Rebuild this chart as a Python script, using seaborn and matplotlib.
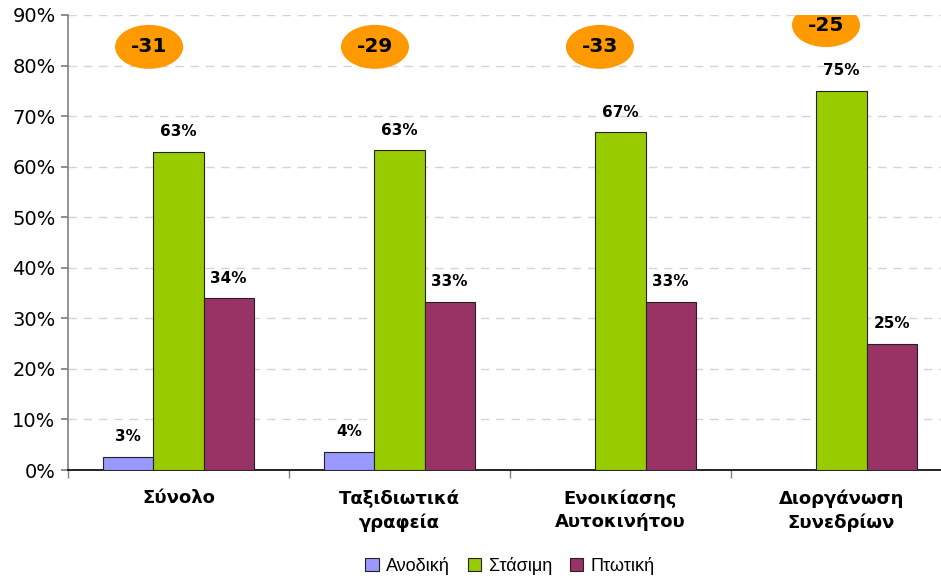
import matplotlib
matplotlib.use("Agg")
import matplotlib.pyplot as plt
from matplotlib.patches import Ellipse
from matplotlib.ticker import FuncFormatter
import seaborn as sns
import pandas as pd

categories = ["Σύνολο", "Ταξιδιωτικά\nγραφεία", "Ενοικίασης\nΑυτοκινήτου", "Διοργάνωση\nΣυνεδρίων"]
series = ["Ανοδική", "Στάσιμη", "Πτωτική"]
anodiki = [2.6, 3.6, 0, 0]
stasimi = [63.0, 63.2, 66.8, 75.0]
ptotiki = [34.0, 33.3, 33.3, 25.0]
balance = ["-31", "-29", "-33", "-25"]
balance_x = [-0.133, 0.889, 1.907, 2.93]
balance_y = [83.7, 83.7, 83.7, 88.0]
colors = ["#9999FF", "#99CC00", "#993366"]

rows = []
for s, vals in zip(series, [anodiki, stasimi, ptotiki]):
    for c, v in zip(categories, vals):
        rows.append({"cat": c, "series": s, "value": v})
df = pd.DataFrame(rows)

sns.set_theme(style="white")
plt.rcParams["font.family"] = ["DejaVu Sans"]
plt.rcParams["text.color"] = "black"
plt.rcParams["xtick.color"] = "black"
plt.rcParams["ytick.color"] = "black"

fig = plt.figure(figsize=(9.41, 5.79), dpi=100)
ax = fig.add_axes([68 / 941, 1 - 470 / 579, 884 / 941, 455 / 579])

sns.barplot(data=df, x="cat", y="value", hue="series", palette=colors,
            width=0.68, edgecolor="#222222", linewidth=0.8, ax=ax,
            saturation=1, legend=True, zorder=3)

for cont in ax.containers:
    labels = [f"{round(b.get_height()):d}%" if b.get_height() > 0 else "" for b in cont]
    ax.bar_label(cont, labels=labels, padding=9, fontsize=11, fontweight="bold", color="black")

for txt, x, y in zip(balance, balance_x, balance_y):
    ax.add_patch(Ellipse((x, y), 0.308, 8.7, facecolor="#FF9900", edgecolor="none", zorder=4))
    ax.text(x, y, txt, ha="center", va="center", fontsize=14.5, fontweight="bold",
            color="black", zorder=5)

ax.set_ylim(0, 90)
ax.set_xlim(-0.5, 3.5)
ax.set_yticks(range(0, 91, 10))
ax.yaxis.set_major_formatter(FuncFormatter(lambda v, p: f"{int(v)}%"))
ax.tick_params(axis="y", labelsize=14, length=5, color="#808080", labelcolor="black",
               left=True, pad=4)
ax.yaxis.grid(True, linestyle=(0, (6, 5)), color="#d4d4d4", linewidth=1, zorder=0)
ax.set_axisbelow(True)

ax.set_xticks(range(4))
ax.set_xticklabels(categories, fontsize=13, fontweight="bold", linespacing=1.35,
                   color="black")
ax.tick_params(axis="x", length=0, pad=14)
ax.set_xticks([-0.5, 0.5, 1.5, 2.5, 3.5], minor=True)
ax.tick_params(axis="x", which="minor", length=6, color="#808080", bottom=True)

ax.set_xlabel("")
ax.set_ylabel("")
for side in ["top", "right"]:
    ax.spines[side].set_visible(False)
ax.spines["left"].set_color("#808080")
ax.spines["left"].set_linewidth(1.2)
ax.spines["bottom"].set_color("black")
ax.spines["bottom"].set_linewidth(1.2)

handles, labs = ax.get_legend_handles_labels()
ax.legend_.remove()
fig.legend(handles, labs, loc="center", bbox_to_anchor=(510 / 941, 1 - 566 / 579),
           ncol=3, frameon=False, prop={"family": "Liberation Sans", "size": 13},
           handlelength=0.75, handleheight=0.75, handletextpad=0.4, columnspacing=1.0,
           labelcolor="black")

fig.savefig("out.png", dpi=100)
